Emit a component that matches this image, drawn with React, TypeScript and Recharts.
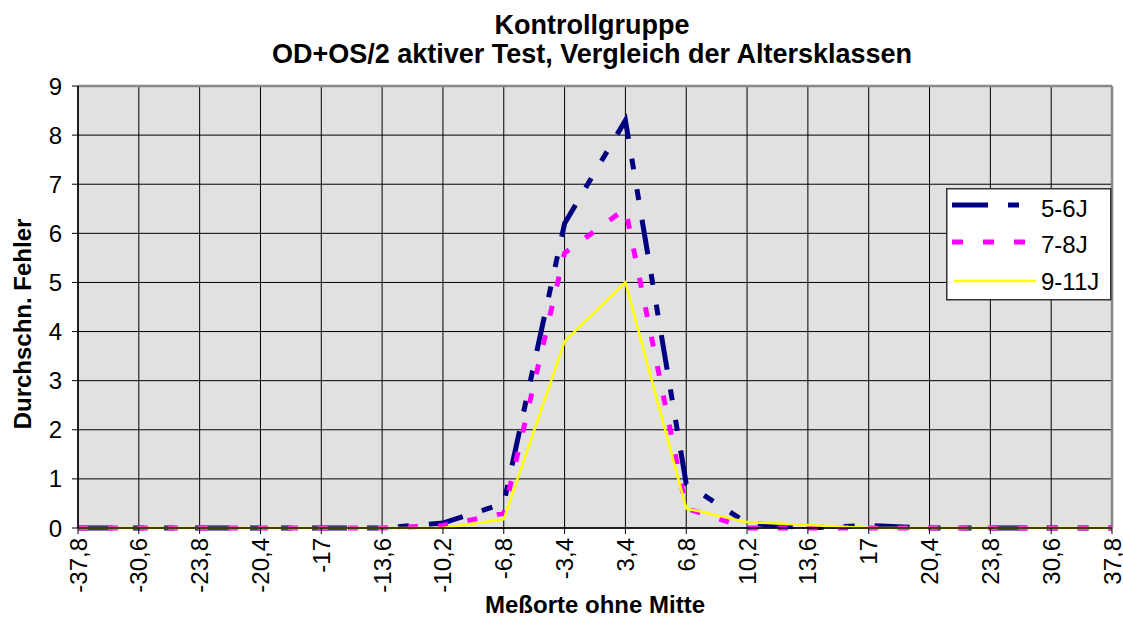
import React from "react";
import {
  LineChart,
  Line,
  XAxis,
  YAxis,
  CartesianGrid,
  Legend,
  ReferenceLine,
} from "recharts";

// Meßorte (x categories, German decimal comma)
const categories = [
  "-37,8", "-30,6", "-23,8", "-20,4", "-17", "-13,6", "-10,2", "-6,8", "-3,4",
  "3,4", "6,8", "10,2", "13,6", "17", "20,4", "23,8", "30,6", "37,8",
];

// average errors per age group
const age5to6 = [0, 0, 0, 0, 0, 0, 0.1, 0.5, 6.2, 8.3, 0.9, 0.1, 0, 0.05, 0, 0, 0, 0];
const age7to8 = [0, 0, 0, 0, 0, 0, 0.05, 0.3, 5.6, 6.5, 0.4, 0, 0, 0, 0, 0, 0, 0];
const age9to11 = [0, 0, 0, 0, 0, 0, 0, 0.18, 3.8, 5.0, 0.4, 0.12, 0.06, 0, 0, 0, 0, 0];

const yTicks = [0, 1, 2, 3, 4, 5, 6, 7, 8, 9];

const FONT = "'Liberation Sans', Arial, sans-serif";

const data = categories.map((cat, i) => ({
  cat,
  a: age5to6[i],
  b: age7to8[i],
  c: age9to11[i],
}));

const SERIES = [
  { key: "a", name: "5-6J", color: "#000080", width: 5, dash: "35 20 11 20 11 20" },
  { key: "b", name: "7-8J", color: "#ff00ff", width: 5, dash: "10 20" },
  { key: "c", name: "9-11J", color: "#ffff00", width: 2.5, dash: undefined },
];

const XTick = (props: any) => {
  const { x, y, payload } = props;
  return (
    <text
      transform={`translate(${x},${y}) rotate(-90)`}
      textAnchor="end"
      dominantBaseline="central"
      fontSize={24}
      fontFamily={FONT}
      fill="#000"
    >
      {payload.value}
    </text>
  );
};

const LegendBox = () => {
  const rows = [
    { s: SERIES[0], lineY: 17, textY: 29, x1: 6, x2: 73 },
    { s: SERIES[1], lineY: 54, textY: 65, x1: 6, x2: 79 },
    { s: SERIES[2], lineY: 93, textY: 102, x1: 8, x2: 90 },
  ];
  return (
    <svg width={166} height={113} style={{ display: "block" }}>
      <rect x={0.75} y={0.75} width={164} height={111} fill="#fff" stroke="#333" strokeWidth={1.5} />
      {rows.map((r) => (
        <g key={r.s.key}>
          <line
            x1={r.x1}
            x2={r.x2}
            y1={r.lineY}
            y2={r.lineY}
            stroke={r.s.color}
            strokeWidth={r.s.width}
            strokeDasharray={r.s.key === "a" ? "36 20 11" : r.s.key === "b" ? "11 20" : undefined}
          />
          <text x={95} y={r.textY} fontSize={24} fontFamily={FONT} fill="#000">
            {r.s.name}
          </text>
        </g>
      ))}
    </svg>
  );
};

const YLabel = (props: any) => {
  const { viewBox } = props;
  const cx = viewBox.x + 22;
  const cy = viewBox.y + viewBox.height / 2 + 17;
  return (
    <text
      transform={`translate(${cx},${cy}) rotate(-90)`}
      textAnchor="middle"
      dominantBaseline="central"
      fontSize={24}
      fontWeight="bold"
      fontFamily={FONT}
      fill="#000"
    >
      Durchschn. Fehler
    </text>
  );
};

export default function App() {
  return (
    <div
      style={{
        position: "absolute",
        left: 0,
        top: 0,
        width: 1123,
        height: 619,
        background: "#fff",
        fontFamily: FONT,
      }}
    >
      <div
        style={{
          position: "absolute",
          left: 0,
          top: 11,
          width: 1184,
          textAlign: "center",
          fontSize: 27,
          lineHeight: "29px",
          fontWeight: "bold",
          color: "#000",
          whiteSpace: "nowrap",
        }}
      >
        <div>Kontrollgruppe</div>
        <div>OD+OS/2 aktiver Test, Vergleich der Altersklassen</div>
      </div>
      <LineChart
        width={1123}
        height={619}
        data={data}
        margin={{ top: 86, right: 11, left: 0, bottom: 0 }}
      >
        <CartesianGrid stroke="#000" strokeWidth={1} fill="#e1e1e1" fillOpacity={1} />
        <XAxis
          dataKey="cat"
          interval={0}
          height={91}
          tickSize={6}
          tickMargin={4}
          tick={<XTick />}
          axisLine={{ stroke: "#000", strokeWidth: 1.5 }}
          tickLine={{ stroke: "#000" }}
          label={{
            value: "Meßorte ohne Mitte",
            position: "insideBottom",
            offset: 6,
            fontSize: 24,
            fontWeight: "bold",
            fill: "#000",
          }}
        />
        <YAxis
          width={78}
          domain={[0, 9]}
          ticks={yTicks}
          interval={0}
          tickSize={6}
          tickMargin={10}
          tick={{ fill: "#000", fontSize: 24, fontFamily: FONT }}
          axisLine={{ stroke: "#000", strokeWidth: 1.5 }}
          tickLine={{ stroke: "#000" }}
          label={<YLabel />}
        />
        <ReferenceLine y={9} stroke="#888" strokeWidth={2.5} />
        <ReferenceLine x="37,8" stroke="#888" strokeWidth={2.5} />
        {SERIES.map((s) => (
          <Line
            key={s.key}
            type="linear"
            dataKey={s.key}
            name={s.name}
            stroke={s.color}
            strokeWidth={s.width}
            strokeDasharray={s.dash}
            dot={false}
            activeDot={false}
            isAnimationActive={false}
          />
        ))}
        <Legend
          layout="vertical"
          align="center"
          verticalAlign="middle"
          content={<LegendBox />}
          wrapperStyle={{ position: "absolute", left: 946, top: 188, width: 166, height: 113 }}
        />
      </LineChart>
    </div>
  );
}
